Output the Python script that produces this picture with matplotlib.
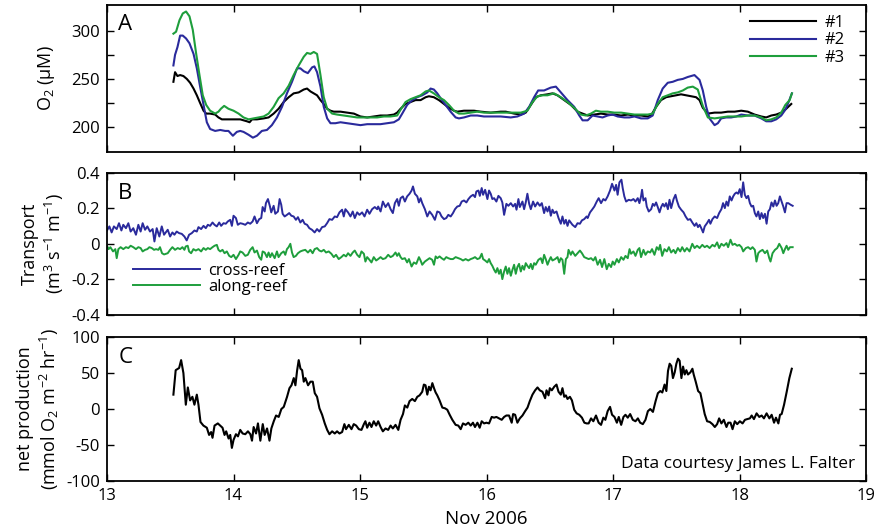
import matplotlib
matplotlib.use("Agg")
import matplotlib.pyplot as plt
import numpy as np

plt.rcParams['font.family'] = ['Open Sans', 'DejaVu Sans']
plt.rcParams['mathtext.default'] = 'regular'
plt.rcParams['axes.unicode_minus'] = False

# ---- panel A: O2 at three sites (uM) ----
a1_day = [13.525, 13.538, 13.557, 13.578, 13.604, 13.631, 13.657, 13.684, 13.710, 13.736, 13.763, 13.784,
          13.815, 13.855, 13.881, 13.908, 13.947, 14.000, 14.053, 14.106, 14.127, 14.146, 14.185, 14.238,
          14.277, 14.317, 14.356, 14.396, 14.436, 14.475, 14.515, 14.555, 14.581, 14.608, 14.634, 14.660,
          14.687, 14.713, 14.740, 14.766, 14.792, 14.845, 14.898, 14.951, 15.003, 15.056, 15.109, 15.161,
          15.214, 15.267, 15.293, 15.320, 15.359, 15.399, 15.438, 15.478, 15.518, 15.544, 15.583, 15.623,
          15.663, 15.702, 15.742, 15.768, 15.821, 15.861, 15.900, 15.953, 16.032, 16.111, 16.151, 16.217,
          16.270, 16.309, 16.349, 16.389, 16.428, 16.481, 16.520, 16.560, 16.613, 16.666, 16.718, 16.758,
          16.798, 16.851, 16.903, 16.956, 17.009, 17.062, 17.115, 17.168, 17.220, 17.273, 17.299, 17.339,
          17.378, 17.418, 17.457, 17.497, 17.536, 17.576, 17.616, 17.655, 17.682, 17.708, 17.748, 17.801,
          17.853, 17.906, 17.959, 18.012, 18.064, 18.117, 18.170, 18.209, 18.249, 18.288, 18.328, 18.367,
          18.407]
a1_val = [247, 257, 253, 254, 253, 250, 246, 240, 233, 225, 217, 214,
          214, 213, 210, 208, 208, 208, 208, 206, 205, 208, 208, 209,
          210, 214, 219, 226, 231, 235, 236, 239, 240, 237, 235, 233,
          228, 224, 219, 217, 216, 216, 215, 214, 211, 210, 211, 212,
          212, 213, 215, 219, 224, 226, 228, 228, 231, 232, 231, 228,
          224, 220, 217, 216, 217, 217, 217, 216, 215, 216, 216, 214,
          213, 215, 223, 231, 233, 234, 235, 233, 228, 223, 216, 214,
          212, 213, 214, 213, 213, 212, 213, 212, 212, 211, 212, 221,
          228, 231, 232, 233, 234, 233, 232, 231, 228, 220, 214, 215,
          215, 216, 216, 217, 216, 213, 211, 210, 212, 213, 215, 219,
          224]

a2_day = [13.525, 13.538, 13.557, 13.578, 13.599, 13.625, 13.652, 13.684, 13.710, 13.736, 13.763, 13.789,
          13.815, 13.855, 13.895, 13.934, 13.960, 13.995, 14.026, 14.053, 14.079, 14.119, 14.153, 14.185,
          14.224, 14.264, 14.303, 14.343, 14.383, 14.422, 14.462, 14.502, 14.528, 14.555, 14.587, 14.621,
          14.639, 14.660, 14.687, 14.713, 14.740, 14.766, 14.805, 14.845, 14.898, 14.951, 15.003, 15.056,
          15.109, 15.161, 15.214, 15.267, 15.306, 15.333, 15.372, 15.412, 15.451, 15.491, 15.531, 15.557,
          15.583, 15.610, 15.636, 15.676, 15.715, 15.755, 15.781, 15.821, 15.874, 15.926, 15.979, 16.032,
          16.111, 16.190, 16.243, 16.296, 16.336, 16.375, 16.407, 16.454, 16.507, 16.547, 16.586, 16.639,
          16.692, 16.732, 16.758, 16.798, 16.837, 16.877, 16.916, 16.956, 16.995, 17.035, 17.088, 17.128,
          17.168, 17.220, 17.273, 17.312, 17.352, 17.391, 17.431, 17.470, 17.510, 17.550, 17.589, 17.642,
          17.682, 17.708, 17.735, 17.761, 17.801, 17.827, 17.853, 17.893, 17.932, 17.972, 18.012, 18.064,
          18.117, 18.170, 18.209, 18.249, 18.288, 18.328, 18.360, 18.386, 18.412]
a2_val = [264, 275, 283, 295, 295, 292, 287, 276, 261, 242, 223, 205,
          198, 196, 197, 196, 196, 191, 195, 196, 195, 192, 189, 191,
          196, 197, 202, 210, 221, 235, 247, 261, 261, 258, 256, 262,
          263, 257, 242, 221, 209, 204, 204, 205, 204, 203, 202, 203,
          203, 203, 204, 205, 208, 214, 223, 228, 231, 233, 236, 240,
          239, 235, 230, 223, 216, 210, 209, 210, 212, 212, 211, 211,
          211, 210, 211, 214, 221, 231, 238, 238, 241, 242, 236, 228,
          221, 212, 207, 207, 212, 211, 210, 212, 213, 211, 210, 210,
          211, 209, 209, 212, 228, 240, 246, 247, 249, 250, 252, 254,
          249, 238, 221, 209, 202, 204, 209, 210, 210, 211, 213, 212,
          212, 209, 206, 206, 208, 212, 218, 226, 235]

a3_day = [13.525, 13.546, 13.573, 13.599, 13.625, 13.652, 13.678, 13.705, 13.731, 13.757, 13.784, 13.815,
          13.855, 13.881, 13.900, 13.926, 13.960, 14.000, 14.040, 14.079, 14.119, 14.158, 14.198, 14.238,
          14.277, 14.317, 14.356, 14.396, 14.436, 14.475, 14.515, 14.555, 14.581, 14.608, 14.634, 14.660,
          14.687, 14.713, 14.740, 14.779, 14.818, 14.871, 14.924, 14.977, 15.029, 15.082, 15.135, 15.188,
          15.240, 15.293, 15.320, 15.359, 15.399, 15.438, 15.478, 15.518, 15.544, 15.583, 15.623, 15.663,
          15.702, 15.742, 15.781, 15.821, 15.874, 15.926, 15.979, 16.032, 16.111, 16.190, 16.270, 16.322,
          16.362, 16.402, 16.441, 16.481, 16.533, 16.586, 16.639, 16.692, 16.745, 16.784, 16.824, 16.863,
          16.903, 16.956, 17.009, 17.062, 17.115, 17.168, 17.220, 17.273, 17.312, 17.352, 17.391, 17.431,
          17.470, 17.510, 17.550, 17.589, 17.629, 17.668, 17.708, 17.748, 17.801, 17.853, 17.906, 17.959,
          18.012, 18.064, 18.117, 18.170, 18.209, 18.249, 18.288, 18.328, 18.360, 18.394, 18.412]
a3_val = [297, 299, 311, 318, 320, 315, 301, 276, 254, 233, 223, 217,
          214, 216, 219, 222, 219, 217, 214, 210, 208, 209, 210, 211,
          214, 221, 230, 235, 243, 254, 264, 273, 277, 276, 278, 276,
          254, 231, 219, 214, 213, 212, 211, 210, 210, 210, 210, 211,
          211, 212, 218, 226, 229, 231, 233, 237, 238, 235, 231, 228,
          223, 217, 214, 214, 215, 216, 215, 215, 215, 215, 215, 217,
          226, 232, 233, 233, 235, 231, 226, 220, 213, 212, 214, 217,
          216, 216, 215, 215, 214, 213, 213, 213, 214, 224, 231, 233,
          235, 236, 238, 241, 242, 239, 222, 210, 209, 210, 211, 211,
          211, 212, 212, 210, 207, 208, 210, 215, 223, 228, 235]

# ---- panel B: transport (m3 s-1 m-1) ----
cross_day = [13.000, 13.019, 13.037, 13.055, 13.077, 13.095, 13.114, 13.129, 13.150, 13.169, 13.187, 13.208,
             13.229, 13.248, 13.266, 13.282, 13.301, 13.319, 13.340, 13.361, 13.375, 13.393, 13.414, 13.433,
             13.451, 13.480, 13.499, 13.517, 13.533, 13.551, 13.570, 13.591, 13.612, 13.630, 13.649, 13.670,
             13.691, 13.710, 13.723, 13.744, 13.763, 13.781, 13.797, 13.815, 13.834, 13.850, 13.868, 13.887,
             13.902, 13.921, 13.939, 13.955, 13.974, 13.987, 14.000, 14.019, 14.034, 14.053, 14.071, 14.093,
             14.113, 14.132, 14.151, 14.166, 14.185, 14.203, 14.219, 14.230, 14.246, 14.256, 14.272, 14.288,
             14.298, 14.317, 14.330, 14.351, 14.364, 14.377, 14.388, 14.404, 14.422, 14.440, 14.457, 14.475,
             14.493, 14.509, 14.528, 14.546, 14.562, 14.581, 14.599, 14.620, 14.641, 14.660, 14.678, 14.700,
             14.721, 14.739, 14.758, 14.779, 14.800, 14.818, 14.837, 14.858, 14.871, 14.884, 14.905, 14.924,
             14.942, 14.958, 14.977, 14.995, 15.016, 15.035, 15.056, 15.074, 15.095, 15.116, 15.135, 15.143,
             15.162, 15.180, 15.201, 15.222, 15.241, 15.259, 15.275, 15.293, 15.306, 15.320, 15.338, 15.354,
             15.372, 15.391, 15.407, 15.418, 15.433, 15.452, 15.465, 15.478, 15.491, 15.512, 15.531, 15.549,
             15.570, 15.591, 15.610, 15.628, 15.644, 15.663, 15.681, 15.697, 15.716, 15.734, 15.750, 15.768,
             15.787, 15.803, 15.821, 15.840, 15.856, 15.874, 15.893, 15.908, 15.919, 15.935, 15.946, 15.961,
             15.972, 15.988, 16.006, 16.019, 16.032, 16.045, 16.059, 16.077, 16.093, 16.111, 16.124, 16.138,
             16.156, 16.172, 16.191, 16.209, 16.225, 16.236, 16.251, 16.262, 16.283, 16.296, 16.309, 16.322,
             16.336, 16.349, 16.367, 16.383, 16.402, 16.420, 16.436, 16.454, 16.467, 16.481, 16.494, 16.507,
             16.520, 16.533, 16.552, 16.568, 16.586, 16.599, 16.613, 16.626, 16.639, 16.652, 16.665, 16.678,
             16.700, 16.718, 16.737, 16.753, 16.771, 16.790, 16.798, 16.817, 16.833, 16.851, 16.870, 16.885,
             16.904, 16.922, 16.938, 16.956, 16.975, 16.991, 17.010, 17.023, 17.035, 17.049, 17.065, 17.075,
             17.088, 17.102, 17.123, 17.141, 17.160, 17.176, 17.194, 17.207, 17.220, 17.228, 17.239, 17.255,
             17.265, 17.281, 17.300, 17.313, 17.326, 17.339, 17.352, 17.366, 17.379, 17.392, 17.405, 17.418,
             17.432, 17.445, 17.458, 17.477, 17.492, 17.503, 17.519, 17.537, 17.556, 17.572, 17.590, 17.609,
             17.625, 17.643, 17.657, 17.670, 17.683, 17.696, 17.710, 17.723, 17.741, 17.757, 17.768, 17.784,
             17.802, 17.821, 17.837, 17.855, 17.868, 17.882, 17.895, 17.908, 17.921, 17.935, 17.948, 17.961,
             17.974, 17.987, 18.000, 18.014, 18.027, 18.040, 18.053, 18.066, 18.080, 18.093, 18.106, 18.119,
             18.132, 18.146, 18.159, 18.172, 18.185, 18.199, 18.212, 18.225, 18.238, 18.251, 18.265, 18.278,
             18.291, 18.304, 18.317, 18.331, 18.344, 18.357, 18.370, 18.383, 18.402, 18.418]
cross_val = [0.075, 0.098, 0.064, 0.098, 0.083, 0.116, 0.075, 0.107, 0.088, 0.116, 0.069, 0.088,
             0.051, 0.107, 0.069, 0.116, 0.079, 0.098, 0.069, 0.083, 0.013, 0.088, 0.041, 0.098,
             0.051, 0.079, 0.041, 0.064, 0.051, 0.069, 0.060, 0.056, 0.041, 0.019, 0.051, 0.060,
             0.075, 0.069, 0.094, 0.083, 0.101, 0.088, 0.107, 0.101, 0.120, 0.107, 0.098, 0.120,
             0.101, 0.116, 0.113, 0.126, 0.135, 0.101, 0.158, 0.145, 0.107, 0.116, 0.113, 0.107,
             0.120, 0.113, 0.126, 0.154, 0.116, 0.139, 0.145, 0.207, 0.182, 0.229, 0.252, 0.210,
             0.177, 0.214, 0.169, 0.182, 0.252, 0.220, 0.169, 0.154, 0.163, 0.173, 0.158, 0.154,
             0.135, 0.150, 0.120, 0.135, 0.113, 0.107, 0.088, 0.079, 0.064, 0.083, 0.069, 0.094,
             0.098, 0.116, 0.139, 0.135, 0.154, 0.150, 0.177, 0.192, 0.154, 0.195, 0.177, 0.154,
             0.182, 0.145, 0.177, 0.163, 0.177, 0.154, 0.192, 0.169, 0.195, 0.207, 0.195, 0.210,
             0.182, 0.238, 0.207, 0.229, 0.195, 0.173, 0.229, 0.252, 0.214, 0.257, 0.267, 0.238,
             0.267, 0.282, 0.300, 0.323, 0.282, 0.267, 0.233, 0.257, 0.229, 0.195, 0.154, 0.182,
             0.163, 0.135, 0.182, 0.177, 0.154, 0.139, 0.145, 0.163, 0.154, 0.173, 0.195, 0.210,
             0.214, 0.238, 0.244, 0.233, 0.252, 0.267, 0.276, 0.263, 0.295, 0.300, 0.270, 0.314,
             0.276, 0.304, 0.252, 0.300, 0.282, 0.252, 0.257, 0.238, 0.270, 0.257, 0.233, 0.163,
             0.225, 0.214, 0.229, 0.210, 0.225, 0.192, 0.252, 0.207, 0.238, 0.195, 0.233, 0.282,
             0.225, 0.195, 0.238, 0.210, 0.233, 0.214, 0.229, 0.173, 0.207, 0.182, 0.210, 0.158,
             0.192, 0.173, 0.182, 0.145, 0.113, 0.154, 0.113, 0.135, 0.101, 0.132, 0.120, 0.107,
             0.094, 0.116, 0.113, 0.132, 0.139, 0.154, 0.145, 0.177, 0.192, 0.210, 0.238, 0.257,
             0.229, 0.252, 0.244, 0.267, 0.300, 0.338, 0.300, 0.332, 0.276, 0.346, 0.361, 0.314,
             0.267, 0.238, 0.248, 0.244, 0.252, 0.238, 0.257, 0.229, 0.267, 0.304, 0.244, 0.257,
             0.210, 0.182, 0.195, 0.225, 0.214, 0.233, 0.207, 0.177, 0.207, 0.225, 0.210, 0.229,
             0.195, 0.248, 0.201, 0.252, 0.276, 0.244, 0.210, 0.192, 0.177, 0.154, 0.135, 0.139,
             0.120, 0.101, 0.116, 0.094, 0.107, 0.088, 0.064, 0.098, 0.116, 0.135, 0.113, 0.139,
             0.154, 0.145, 0.173, 0.195, 0.229, 0.201, 0.238, 0.214, 0.267, 0.244, 0.267, 0.282,
             0.289, 0.282, 0.308, 0.263, 0.346, 0.276, 0.257, 0.270, 0.229, 0.210, 0.214, 0.173,
             0.154, 0.182, 0.139, 0.173, 0.145, 0.169, 0.113, 0.182, 0.195, 0.233, 0.210, 0.244,
             0.214, 0.229, 0.267, 0.238, 0.210, 0.177, 0.229, 0.229, 0.220, 0.214]

along_day = [13.000, 13.013, 13.027, 13.048, 13.066, 13.077, 13.090, 13.108, 13.129, 13.150, 13.169, 13.187,
             13.208, 13.229, 13.248, 13.266, 13.282, 13.301, 13.319, 13.335, 13.354, 13.372, 13.388, 13.406,
             13.419, 13.435, 13.451, 13.480, 13.499, 13.517, 13.538, 13.559, 13.578, 13.596, 13.612, 13.622,
             13.638, 13.649, 13.665, 13.683, 13.702, 13.723, 13.744, 13.763, 13.781, 13.797, 13.815, 13.834,
             13.850, 13.868, 13.881, 13.895, 13.913, 13.929, 13.947, 13.966, 13.982, 14.000, 14.019, 14.040,
             14.053, 14.071, 14.093, 14.113, 14.132, 14.151, 14.166, 14.185, 14.203, 14.219, 14.230, 14.246,
             14.264, 14.277, 14.290, 14.304, 14.325, 14.343, 14.356, 14.377, 14.396, 14.409, 14.422, 14.435,
             14.449, 14.462, 14.475, 14.493, 14.509, 14.528, 14.546, 14.567, 14.588, 14.607, 14.625, 14.641,
             14.660, 14.678, 14.694, 14.713, 14.731, 14.752, 14.773, 14.792, 14.810, 14.831, 14.852, 14.871,
             14.889, 14.905, 14.924, 14.942, 14.958, 14.977, 14.995, 15.011, 15.030, 15.042, 15.056, 15.074,
             15.090, 15.108, 15.127, 15.143, 15.162, 15.180, 15.201, 15.222, 15.241, 15.259, 15.280, 15.293,
             15.306, 15.320, 15.333, 15.354, 15.372, 15.386, 15.407, 15.425, 15.444, 15.465, 15.478, 15.491,
             15.512, 15.531, 15.549, 15.570, 15.584, 15.597, 15.610, 15.628, 15.644, 15.663, 15.681, 15.697,
             15.716, 15.734, 15.755, 15.776, 15.795, 15.813, 15.834, 15.855, 15.874, 15.893, 15.908, 15.927,
             15.945, 15.961, 15.972, 15.988, 16.006, 16.019, 16.032, 16.045, 16.059, 16.072, 16.085, 16.098,
             16.111, 16.124, 16.138, 16.151, 16.164, 16.177, 16.191, 16.204, 16.217, 16.230, 16.243, 16.256,
             16.270, 16.283, 16.296, 16.309, 16.322, 16.336, 16.349, 16.362, 16.375, 16.388, 16.409, 16.428,
             16.441, 16.454, 16.467, 16.481, 16.494, 16.507, 16.520, 16.541, 16.560, 16.573, 16.586, 16.599,
             16.613, 16.626, 16.639, 16.647, 16.665, 16.678, 16.700, 16.718, 16.737, 16.753, 16.771, 16.790,
             16.806, 16.825, 16.843, 16.859, 16.877, 16.896, 16.912, 16.930, 16.949, 16.965, 16.983, 16.996,
             17.010, 17.029, 17.044, 17.063, 17.081, 17.097, 17.115, 17.129, 17.141, 17.160, 17.176, 17.194,
             17.207, 17.220, 17.239, 17.255, 17.273, 17.292, 17.307, 17.326, 17.344, 17.360, 17.371, 17.387,
             17.405, 17.424, 17.440, 17.458, 17.477, 17.492, 17.511, 17.530, 17.545, 17.564, 17.582, 17.603,
             17.625, 17.643, 17.662, 17.683, 17.704, 17.723, 17.741, 17.762, 17.784, 17.802, 17.821, 17.837,
             17.855, 17.874, 17.895, 17.908, 17.927, 17.943, 17.961, 17.980, 17.996, 18.014, 18.027, 18.048,
             18.066, 18.085, 18.101, 18.119, 18.132, 18.146, 18.159, 18.180, 18.199, 18.217, 18.233, 18.243,
             18.259, 18.278, 18.296, 18.312, 18.331, 18.344, 18.357, 18.370, 18.383, 18.397, 18.418]
along_val = [-0.011, -0.030, -0.019, -0.043, -0.030, -0.081, -0.030, -0.019, -0.030, -0.019, -0.024, -0.011,
             -0.019, -0.030, -0.019, -0.024, -0.043, -0.034, -0.030, -0.019, -0.024, -0.034, -0.030, -0.034,
             -0.019, -0.053, -0.060, -0.053, -0.034, -0.019, -0.034, -0.024, -0.030, -0.019, -0.034, -0.015,
             -0.011, -0.043, -0.053, -0.030, -0.038, -0.030, -0.043, -0.024, -0.034, -0.024, -0.030, -0.019,
             -0.011, -0.006, -0.034, -0.043, -0.034, -0.053, -0.043, -0.068, -0.075, -0.062, -0.086, -0.062,
             -0.043, -0.049, -0.068, -0.062, -0.034, -0.019, -0.049, -0.038, -0.075, -0.090, -0.043, -0.049,
             -0.075, -0.049, -0.075, -0.053, -0.081, -0.043, -0.075, -0.053, -0.043, -0.062, -0.030, -0.019,
             0.000, -0.049, -0.075, -0.068, -0.053, -0.043, -0.038, -0.034, -0.049, -0.034, -0.053, -0.030,
             -0.024, -0.038, -0.043, -0.034, -0.049, -0.043, -0.056, -0.075, -0.062, -0.086, -0.075, -0.062,
             -0.071, -0.053, -0.068, -0.049, -0.038, -0.062, -0.075, -0.043, -0.056, -0.100, -0.075, -0.090,
             -0.105, -0.075, -0.094, -0.086, -0.075, -0.086, -0.081, -0.062, -0.075, -0.068, -0.049, -0.068,
             -0.053, -0.075, -0.086, -0.081, -0.105, -0.086, -0.128, -0.105, -0.113, -0.075, -0.094, -0.118,
             -0.100, -0.090, -0.081, -0.090, -0.118, -0.071, -0.081, -0.071, -0.081, -0.090, -0.075, -0.081,
             -0.086, -0.086, -0.075, -0.081, -0.086, -0.094, -0.086, -0.094, -0.086, -0.081, -0.075, -0.086,
             -0.081, -0.056, -0.086, -0.094, -0.105, -0.086, -0.109, -0.124, -0.146, -0.162, -0.137, -0.169,
             -0.146, -0.199, -0.156, -0.128, -0.169, -0.137, -0.180, -0.146, -0.118, -0.169, -0.131, -0.113,
             -0.156, -0.124, -0.146, -0.109, -0.124, -0.137, -0.113, -0.143, -0.109, -0.118, -0.090, -0.081,
             -0.109, -0.062, -0.086, -0.118, -0.094, -0.075, -0.094, -0.086, -0.075, -0.105, -0.081, -0.090,
             -0.169, -0.086, -0.075, -0.034, -0.062, -0.043, -0.068, -0.053, -0.038, -0.053, -0.075, -0.081,
             -0.086, -0.081, -0.094, -0.075, -0.118, -0.090, -0.131, -0.086, -0.143, -0.113, -0.131, -0.100,
             -0.118, -0.086, -0.105, -0.075, -0.090, -0.068, -0.081, -0.030, -0.056, -0.043, -0.068, -0.034,
             -0.024, -0.075, -0.034, -0.062, -0.043, -0.049, -0.030, -0.062, -0.019, -0.034, -0.006, -0.068,
             -0.030, -0.043, -0.019, -0.049, -0.034, -0.053, -0.024, -0.043, -0.019, -0.043, -0.024, -0.043,
             0.000, -0.024, -0.011, -0.024, -0.006, -0.019, -0.011, -0.024, -0.006, -0.015, 0.008, -0.024,
             0.000, -0.011, 0.004, -0.019, 0.023, -0.006, 0.000, -0.011, -0.006, -0.019, -0.043, -0.024,
             -0.019, -0.030, -0.019, -0.034, -0.100, -0.053, -0.043, -0.034, -0.053, -0.038, -0.081, -0.100,
             -0.053, -0.034, -0.024, 0.000, -0.024, -0.053, -0.030, -0.011, -0.034, -0.019, -0.019]

# ---- panel C: net production (mmol O2 m-2 hr-1) ----
np_day = [13.525, 13.543, 13.570, 13.586, 13.604, 13.623, 13.639, 13.657, 13.675, 13.691, 13.710, 13.723,
          13.739, 13.762, 13.789, 13.807, 13.823, 13.834, 13.850, 13.876, 13.895, 13.913, 13.929, 13.942,
          13.961, 13.974, 13.987, 14.000, 14.019, 14.035, 14.053, 14.072, 14.093, 14.114, 14.133, 14.146,
          14.159, 14.178, 14.193, 14.212, 14.231, 14.246, 14.265, 14.284, 14.299, 14.318, 14.336, 14.357,
          14.378, 14.397, 14.423, 14.442, 14.458, 14.476, 14.489, 14.502, 14.515, 14.529, 14.542, 14.555,
          14.568, 14.589, 14.608, 14.626, 14.642, 14.660, 14.679, 14.700, 14.721, 14.740, 14.758, 14.779,
          14.800, 14.818, 14.837, 14.858, 14.876, 14.889, 14.911, 14.932, 14.950, 14.969, 14.990, 15.011,
          15.030, 15.042, 15.056, 15.074, 15.090, 15.108, 15.127, 15.143, 15.162, 15.180, 15.201, 15.222,
          15.241, 15.259, 15.280, 15.302, 15.320, 15.339, 15.354, 15.373, 15.391, 15.412, 15.433, 15.452,
          15.470, 15.491, 15.504, 15.517, 15.531, 15.544, 15.557, 15.571, 15.584, 15.597, 15.610, 15.628,
          15.650, 15.671, 15.689, 15.708, 15.729, 15.755, 15.776, 15.795, 15.813, 15.834, 15.855, 15.874,
          15.892, 15.908, 15.927, 15.945, 15.961, 15.980, 15.998, 16.019, 16.040, 16.059, 16.077, 16.098,
          16.119, 16.138, 16.156, 16.177, 16.198, 16.209, 16.225, 16.243, 16.262, 16.283, 16.304, 16.323,
          16.341, 16.362, 16.383, 16.402, 16.420, 16.441, 16.462, 16.473, 16.489, 16.499, 16.515, 16.534,
          16.552, 16.568, 16.586, 16.599, 16.613, 16.626, 16.639, 16.658, 16.674, 16.692, 16.711, 16.732,
          16.753, 16.772, 16.790, 16.806, 16.825, 16.843, 16.864, 16.885, 16.904, 16.922, 16.938, 16.956,
          16.975, 16.991, 17.010, 17.029, 17.044, 17.063, 17.081, 17.097, 17.115, 17.134, 17.155, 17.176,
          17.195, 17.213, 17.234, 17.255, 17.274, 17.293, 17.314, 17.335, 17.353, 17.372, 17.388, 17.406,
          17.420, 17.433, 17.446, 17.459, 17.472, 17.486, 17.499, 17.512, 17.525, 17.539, 17.552, 17.565,
          17.578, 17.591, 17.610, 17.626, 17.636, 17.652, 17.671, 17.689, 17.705, 17.723, 17.742, 17.763,
          17.784, 17.803, 17.821, 17.837, 17.855, 17.874, 17.895, 17.909, 17.927, 17.943, 17.961, 17.980,
          18.001, 18.022, 18.041, 18.059, 18.080, 18.094, 18.112, 18.133, 18.154, 18.173, 18.191, 18.212,
          18.234, 18.252, 18.271, 18.286, 18.305, 18.318, 18.331, 18.350, 18.371, 18.392, 18.411]
np_val = [20, 54, 57, 68, 50, 6, 30, 12, 17, 6, 20, 6,
          -18, -23, -26, -36, -32, -40, -23, -20, -23, -26, -36, -31,
          -41, -36, -54, -43, -35, -38, -29, -34, -35, -31, -35, -44,
          -25, -34, -20, -44, -21, -36, -27, -44, -27, -17, -9, -11,
          0, 3, 17, 29, 33, 43, 33, 53, 68, 56, 54, 38,
          43, 33, 38, 38, 22, 17, 1, -8, -20, -29, -35, -31,
          -34, -31, -34, -32, -21, -28, -22, -28, -21, -23, -28, -29,
          -21, -17, -26, -19, -25, -17, -23, -17, -25, -31, -27, -29,
          -23, -27, -22, -29, -15, -7, 5, 2, 11, 14, 11, 17,
          19, 24, 34, 33, 20, 31, 26, 36, 29, 23, 19, 12,
          2, 1, -1, -8, -15, -22, -23, -28, -20, -22, -19, -23,
          -19, -25, -19, -26, -17, -20, -19, -20, -11, -12, -11, -13,
          -15, -11, -9, -9, -19, -7, -8, -19, -13, -9, -3, 2,
          11, 20, 26, 30, 26, 24, 15, 26, 19, 29, 26, 31,
          34, 24, 20, 29, 17, 19, 14, 17, 12, -1, -6, -8,
          -12, -19, -20, -20, -13, -17, -9, -19, -22, -12, -15, -3,
          3, -8, -11, -19, -11, -22, -11, -8, -12, -7, -15, -17,
          -13, -19, -21, -15, -3, 0, -4, 11, 22, 25, 23, 34,
          25, 53, 63, 60, 43, 51, 63, 70, 67, 43, 59, 48,
          54, 48, 51, 56, 48, 38, 25, 22, 8, -7, -17, -18,
          -21, -25, -21, -13, -20, -15, -25, -19, -19, -28, -17, -21,
          -17, -20, -15, -14, -13, -9, -14, -6, -11, -9, -13, -6,
          -13, -8, -19, -12, -20, -8, -7, 6, 24, 43, 56]

# ---- figure ----
c_blue = '#2a2a9c'
c_green = '#1e9e3c'
x_ticks = [13, 14, 15, 16, 17, 18, 19]

fig = plt.figure(figsize=(8.84, 5.30), dpi=100)
axA = fig.add_axes([0.121, 0.713, 0.859, 0.278])
axB = fig.add_axes([0.121, 0.406, 0.859, 0.268])
axC = fig.add_axes([0.121, 0.0925, 0.859, 0.2715])

for ax in (axA, axB, axC):
    ax.set_xlim(13, 19)
    ax.set_xticks(x_ticks)
    ax.tick_params(direction='in', top=True, right=True, length=5, width=1, labelsize=12, pad=5)
    for s in ax.spines.values():
        s.set_linewidth(1.3)

# A
axA.plot(a1_day, a1_val, color='black', lw=1.5, label='#1')
axA.plot(a2_day, a2_val, color=c_blue, lw=1.5, label='#2')
axA.plot(a3_day, a3_val, color=c_green, lw=1.5, label='#3')
axA.set_ylim(174, 327)
axA.set_yticks([200, 225, 250, 275, 300])
axA.set_yticklabels(['200', '', '250', '', '300'])
axA.set_xticklabels([])
axA.set_ylabel('O$_2$ (μM)', fontsize=13, labelpad=10)
axA.text(0.015, 0.94, 'A', transform=axA.transAxes, fontsize=16, va='top')
axA.legend(loc='upper right', frameon=False, fontsize=12, handlelength=4.0,
           handletextpad=0.5, labelspacing=0.1, borderaxespad=0.2,
           bbox_to_anchor=(0.985, 1.0))

# B
axB.plot(cross_day, cross_val, color=c_blue, lw=1.4, label='cross-reef')
axB.plot(along_day, along_val, color=c_green, lw=1.4, label='along-reef')
axB.set_ylim(-0.4, 0.4)
axB.set_yticks([-0.4, -0.2, 0, 0.2, 0.4])
axB.set_yticklabels(['-0.4', '-0.2', '0', '0.2', '0.4'])
axB.set_xticklabels([])
axB.set_ylabel('Transport\n(m$^3$ s$^{-1}$ m$^{-1}$)', fontsize=13, labelpad=4)
axB.text(0.015, 0.93, 'B', transform=axB.transAxes, fontsize=16, va='top')
axB.legend(loc='lower left', bbox_to_anchor=(0.015, 0.035), frameon=False, fontsize=12,
           handlelength=4.0, handletextpad=0.5, labelspacing=0.0)

# C
axC.plot(np_day, np_val, color='black', lw=1.5)
axC.set_ylim(-100, 100)
axC.set_yticks([-100, -50, 0, 50, 100])
axC.set_yticklabels(['-100', '-50', '0', '50', '100'])
axC.set_ylabel('net production\n(mmol O$_2$ m$^{-2}$ hr$^{-1}$)', fontsize=13, labelpad=4)
axC.text(0.015, 0.93, 'C', transform=axC.transAxes, fontsize=16, va='top')
axC.text(0.985, 0.06, 'Data courtesy James L. Falter', transform=axC.transAxes,
         fontsize=12.5, ha='right', va='bottom')
fig.text(0.5505, 0.012, 'Nov 2006', fontsize=13.5, ha='center', va='baseline')

fig.savefig('out.png', dpi=100)
